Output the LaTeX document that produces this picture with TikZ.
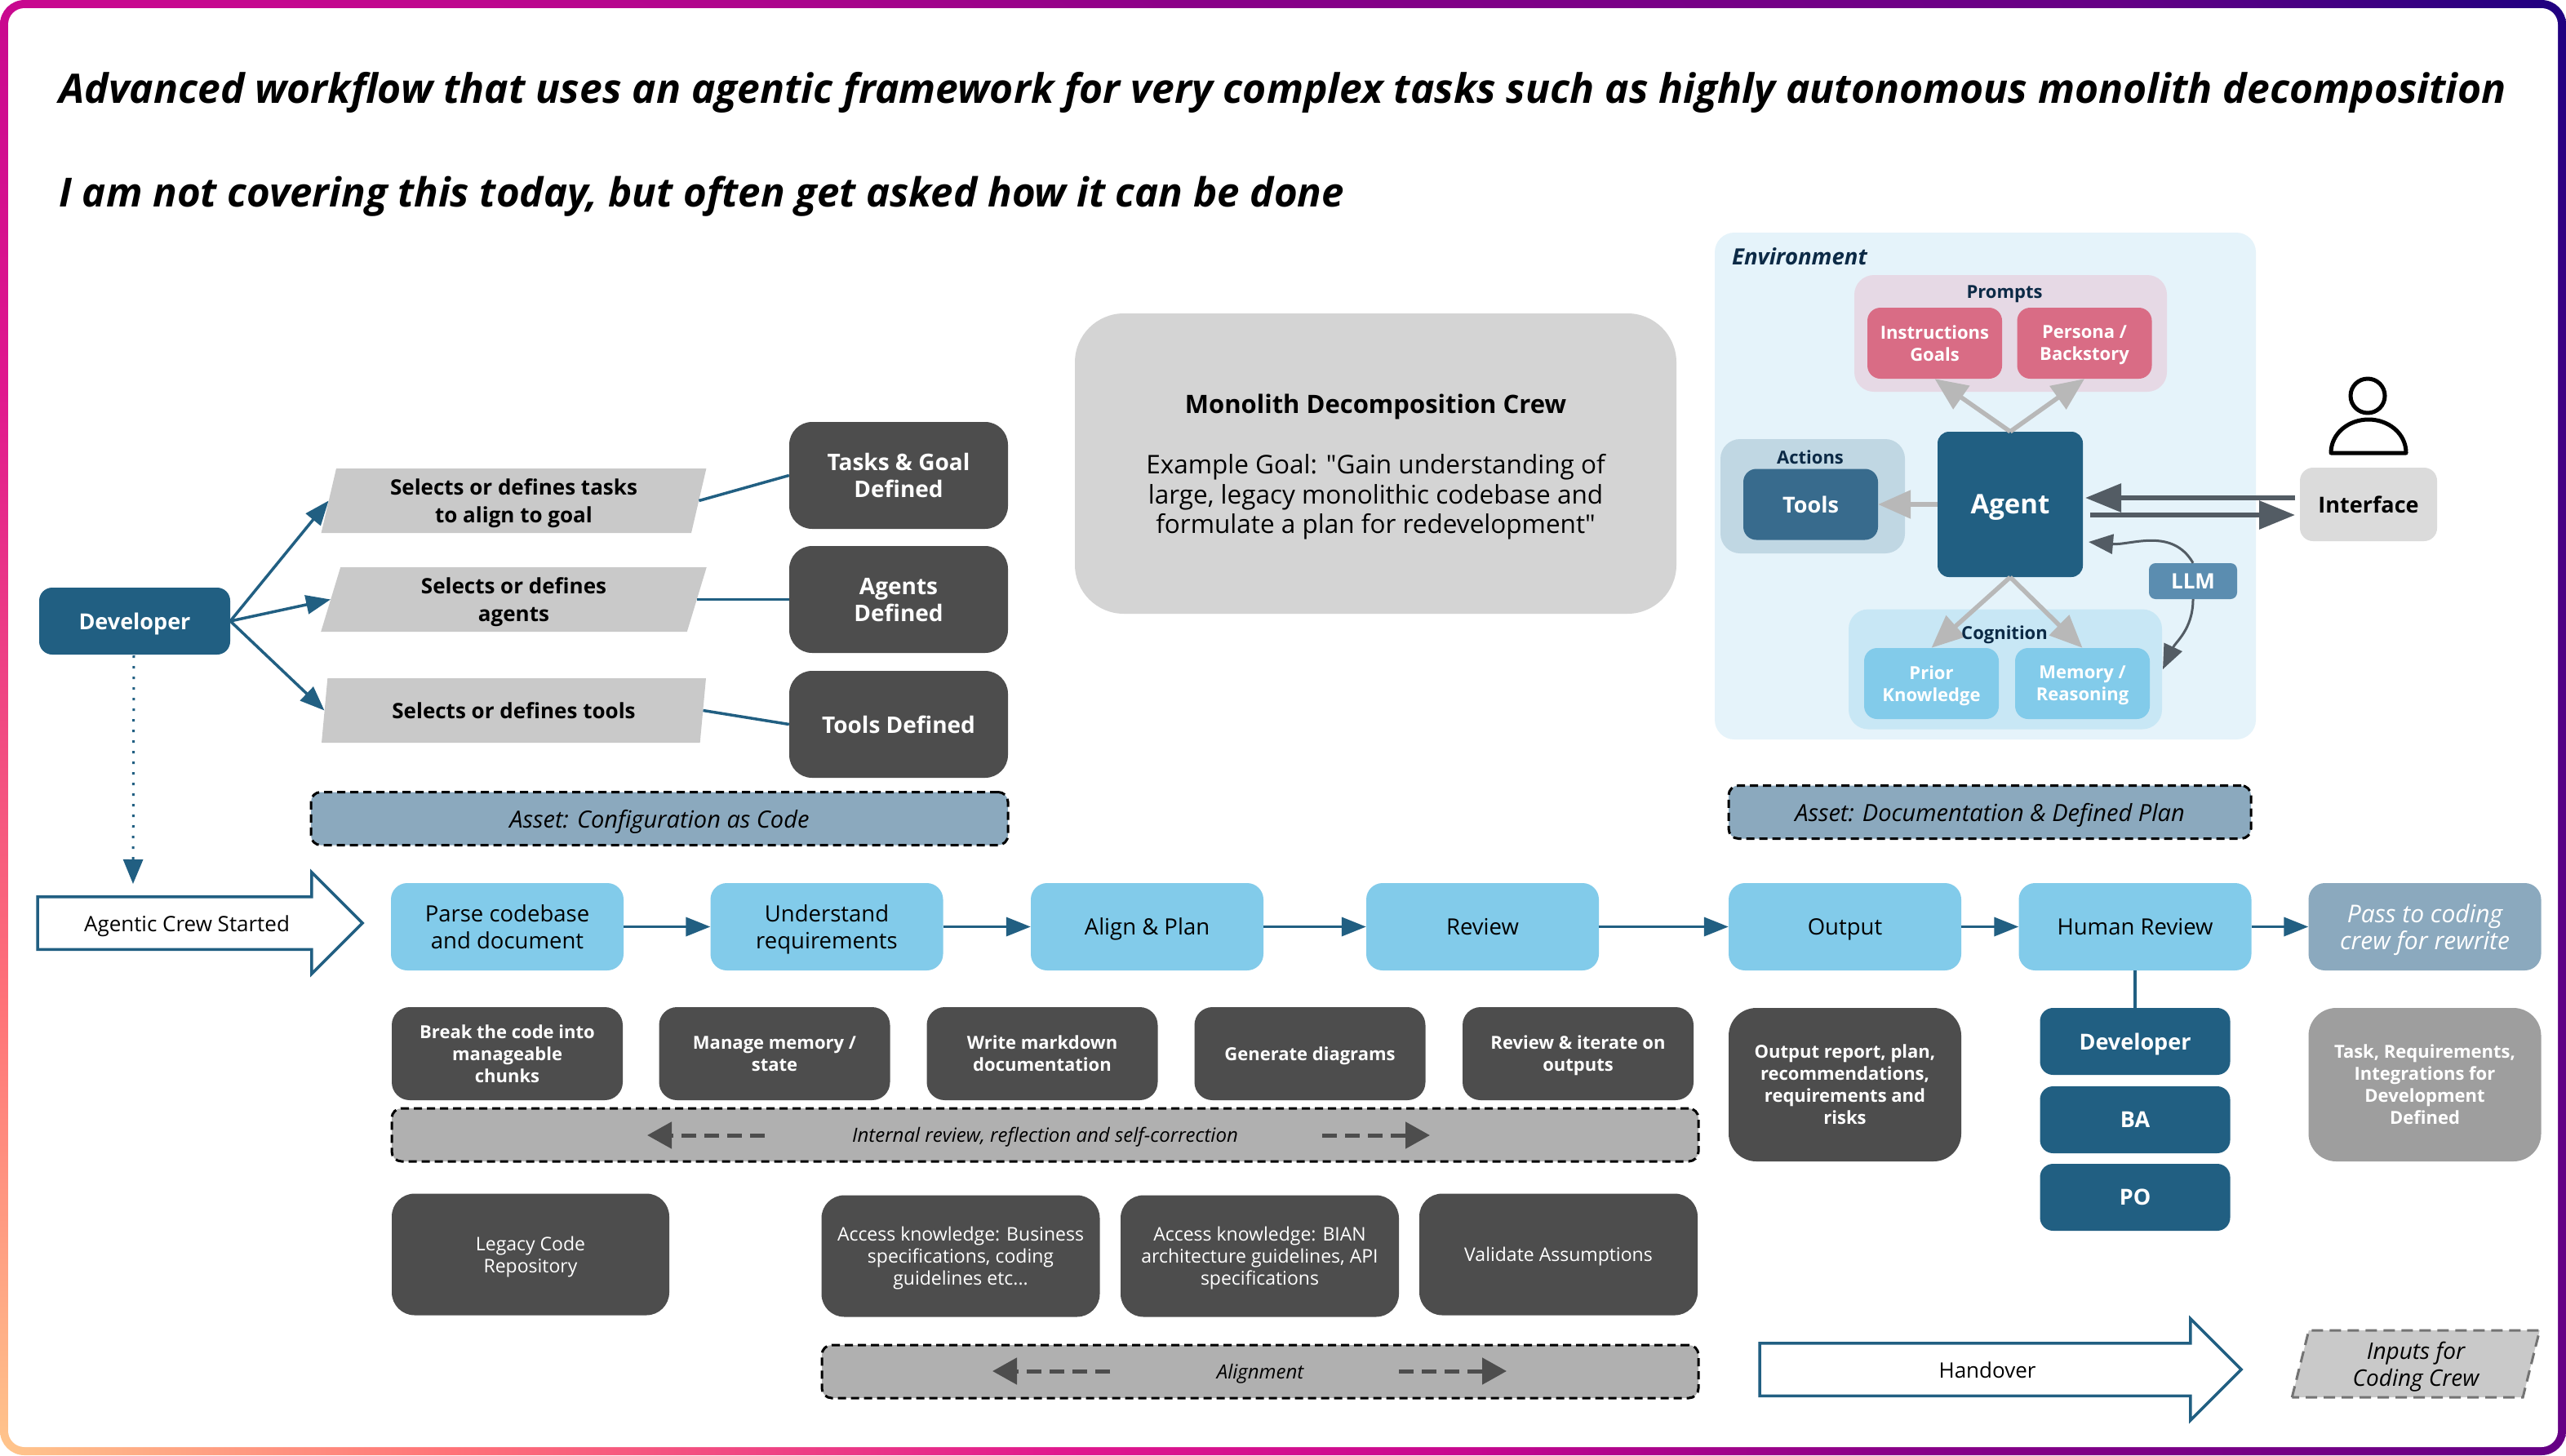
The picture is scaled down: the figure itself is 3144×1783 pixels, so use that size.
\documentclass[tikz,border=0pt]{standalone}
\usepackage{fontspec}
\setmainfont{Open Sans}
\usepackage{tikz}
\usetikzlibrary{arrows.meta,shapes.geometric,shapes.arrows}

\definecolor{navy}{HTML}{215F82}
\definecolor{darkfill}{HTML}{4D4D4D}
\definecolor{stepfill}{HTML}{82CBEA}
\definecolor{assetfill}{HTML}{8BA9BE}
\definecolor{parafill}{HTML}{C9C9C9}
\definecolor{slate}{HTML}{535C64}
\definecolor{inktext}{HTML}{0C2A46}
\definecolor{envfill}{HTML}{E5F3FA}
\definecolor{promptfill}{HTML}{E6D9E5}
\definecolor{rosefill}{HTML}{D96C85}
\definecolor{actionfill}{HTML}{C0D7E3}
\definecolor{toolfill}{HTML}{386B8D}
\definecolor{cognitionfill}{HTML}{C8E7F5}
\definecolor{llmfill}{HTML}{5B8DB0}
\definecolor{frameA}{HTML}{FFC68C}
\definecolor{frameB}{HTML}{FF7378}
\definecolor{frameC}{HTML}{E0188E}
\definecolor{frameD}{HTML}{C8088F}
\definecolor{frameE}{HTML}{8A0088}
\definecolor{frameF}{HTML}{650085}
\definecolor{frameG}{HTML}{1D0080}

\pgfdeclareradialshading{framefill}{\pgfpoint{0bp}{0bp}}{%
    color(0bp)=(frameA);
    color(3.7bp)=(frameB);
    color(8.8bp)=(frameC);
    color(12.05bp)=(frameD);
    color(15.55bp)=(frameE);
    color(21.25bp)=(frameF);
    color(24.45bp)=(frameG);
    color(50bp)=(frameG)}

\newcommand{\fsz}[2]{\fontsize{#1}{#2}\selectfont}

\begin{document}
\begin{tikzpicture}[x=1pt, y=-1pt,
    box/.style={rectangle, align=center, inner sep=0pt, text depth=0pt},
    stepbox/.style={box, fill=stepfill, rounded corners=20pt, minimum width=285pt,
        minimum height=107pt, text=black, font=\fsz{27.5}{33}},
    chunkbox/.style={box, fill=darkfill, rounded corners=22pt, minimum width=283pt,
        minimum height=114pt, text=white, font=\fsz{22}{27}\bfseries},
    defbox/.style={box, fill=darkfill, rounded corners=28pt, minimum width=268pt,
        minimum height=131pt, text=white, font=\fsz{28}{33}\bfseries},
    knowbox/.style={box, fill=darkfill, rounded corners=28pt, minimum width=341pt,
        minimum height=149pt, text=white, font=\fsz{23}{27}},
    outbox/.style={box, rounded corners=34pt, minimum width=285pt,
        minimum height=188pt, text=white, font=\fsz{22}{27}\bfseries},
    teambox/.style={box, fill=navy, rounded corners=16pt, minimum width=233pt,
        minimum height=82pt, text=white, font=\fsz{27}{33}\bfseries},
    parabox/.style={box, trapezium, trapezium stretches=true, trapezium left angle=76.5,
        trapezium right angle=103.5, fill=parafill, minimum width=473pt, minimum height=79pt,
        text=black, font=\fsz{26}{33.5}\bfseries},
    assetbox/.style={box, fill=assetfill, draw=black, line width=3pt, dash pattern=on 10pt off 6pt,
        rounded corners=12pt, minimum height=65pt, text=black, font=\fsz{29}{33}\itshape},
    loopbox/.style={box, fill=black!31, draw=black, line width=3pt, dash pattern=on 10pt off 6pt,
        rounded corners=12pt, minimum height=65pt, text=black, font=\fsz{24}{27}\itshape},
    bigarrow/.style={box, single arrow, single arrow head extend=30pt, minimum width=122pt,
        text height=20pt, inner ysep=20.5pt,
        draw=navy, line width=3.5pt, fill=white, text=black, font=\fsz{26}{33}},
    grouplabel/.style={box, text=inktext, font=\fsz{22}{27}\bfseries},
    envbox/.style={box, rounded corners=24pt},
    cardbox/.style={box, rounded corners=16pt, minimum width=165pt, minimum height=87pt,
        text=white, font=\fsz{22}{27}\bfseries},
    flowline/.style={navy, line width=3.5pt, -{Triangle[length=30pt,width=23pt]}},
    plainline/.style={navy, line width=3.5pt},
    dotline/.style={navy, line width=3pt, dash pattern=on 3pt off 10pt, -{Triangle[length=30pt,width=24pt]}},
    backline/.style={darkfill, line width=5pt, dash pattern=on 18pt off 10pt},
    greyline/.style={black!28, line width=5.5pt, -{Triangle[length=40pt,width=34pt]}},
    ifaceline/.style={slate, line width=6pt, -{Triangle[length=44pt,width=34pt]}},
    llmline/.style={slate, line width=3pt, -{Triangle[length=30pt,width=24pt]}},
    usericon/.style={black, line width=5pt, line join=round}]

    % frame
    \useasboundingbox (0,0) rectangle (3144,1783);
    \begin{scope}
        \clip[rounded corners=30pt] (0,0) rectangle (3144,1783);
        \shade[shading=framefill] (0,1783) circle (3700);
    \end{scope}
    \fill[white, rounded corners=20pt] (10,10) rectangle (3134,1773);

    % titles
    \node[box, anchor=west, font=\fsz{49.8}{54}\bfseries\itshape] (title) at (72,107)
        {Advanced workflow that uses an agentic framework for very complex tasks such as highly autonomous monolith decomposition};
    \node[box, anchor=west, font=\fsz{49.2}{54}\bfseries\itshape] (subtitle) at (72,235)
        {I am not covering this today, but often get asked how it can be done};

    % developer and configuration
    \node[teambox, minimum width=234pt] (dev) at (165,761) {Developer};
    \node[parabox] (seltasks) at (629.5,613.5) {Selects or defines tasks\\to align to goal};
    \node[parabox] (selagents) at (629.5,734.5) {Selects or defines\\agents};
    \node[parabox] (seltools) at (629.5,870.5) {Selects or defines tools};
    \node[defbox] (deftasks) at (1101,582.5) {Tasks \& Goal\\Defined};
    \node[defbox] (defagents) at (1101,734.5) {Agents\\Defined};
    \node[defbox] (deftools) at (1101,887.5) {Tools Defined};
    \node[assetbox, minimum width=854pt] (assetcfg) at (808,1003) {Asset: Configuration as Code};

    \node[box, fill=black!17, rounded corners=60pt, minimum width=737pt, minimum height=368pt,
        text=black, font=\fsz{31.5}{36.5}] (crew) at (1685.5,568)
        {{\fsz{31}{36.5}\bfseries Monolith Decomposition Crew}\\[38pt]
        Example Goal: \textquotedbl Gain understanding of\\large, legacy monolithic codebase and\\formulate a plan for redevelopment\textquotedbl};

    % main flow
    \node[bigarrow, minimum height=398pt] (started) at (229,1131) {Agentic Crew Started};
    \node[stepbox] (parse) at (621.5,1135.5) {Parse codebase\\and document};
    \node[stepbox] (understand) at (1013,1135.5) {Understand\\requirements};
    \node[stepbox] (align) at (1405.5,1135.5) {Align \& Plan};
    \node[stepbox] (review) at (1816.5,1135.5) {Review};
    \node[stepbox] (output) at (2260.5,1135.5) {Output};
    \node[stepbox] (human) at (2616,1135.5) {Human Review};
    \node[stepbox, fill=assetfill, text=white, font=\fsz{30}{33}\itshape] (pass) at (2971,1135.5) {Pass to coding\\crew for rewrite};

    \node[chunkbox] (chunks) at (621.5,1291) {Break the code into\\manageable\\chunks};
    \node[chunkbox] (memory) at (949,1291) {Manage memory /\\state};
    \node[chunkbox] (markdown) at (1277,1291) {Write markdown\\documentation};
    \node[chunkbox] (diagrams) at (1605,1291) {Generate diagrams};
    \node[chunkbox] (iterate) at (1933.5,1291) {Review \& iterate on\\outputs};
    \node[loopbox, minimum width=1601pt] (internal) at (1280.5,1390.5) {Internal review, reflection and self-correction};

    \node[knowbox, minimum width=340pt] (legacy) at (650,1537) {Legacy Code\\Repository};
    \node[knowbox] (bizdocs) at (1177,1539) {Access knowledge: Business\\specifications, coding\\guidelines etc...};
    \node[knowbox] (biandocs) at (1543.5,1539) {Access knowledge: BIAN\\architecture guidelines, API\\specifications};
    \node[knowbox] (validate) at (1909.5,1537) {Validate Assumptions};
    \node[loopbox, minimum width=1074pt] (alignment) at (1544,1680.5) {Alignment};

    \node[outbox, fill=darkfill] (report) at (2260.5,1329) {Output report, plan,\\recommendations,\\requirements  and\\risks};
    \node[outbox, fill=black!38] (inputs) at (2971,1329) {Task, Requirements,\\Integrations for\\Development\\Defined};
    \node[teambox] (devb) at (2616,1276) {Developer};
    \node[teambox] (ba) at (2616,1372) {BA};
    \node[teambox] (po) at (2616,1467) {PO};

    \node[bigarrow, minimum height=590pt] (handover) at (2435,1678) {Handover};
    \node[parabox, trapezium left angle=77.4, trapezium right angle=102.6, minimum width=304pt, minimum height=82pt,
        draw=black!55, line width=3pt, dash pattern=on 14pt off 8pt, font=\fsz{28}{33}\itshape] (coding) at (2960,1671) {Inputs for\\Coding Crew};

    % environment
    \node[envbox, fill=envfill, minimum width=663pt, minimum height=621pt] (env) at (2432.5,595.5) {};
    \node[box, anchor=west, text=inktext, font=\fsz{27.5}{30}\bfseries\itshape] (envlabel) at (2122,314) {Environment};
    \node[envbox, fill=promptfill, minimum width=383pt, minimum height=143pt] (prompts) at (2463.5,408.5) {};
    \node[envbox, fill=actionfill, minimum width=226pt, minimum height=140pt] (actions) at (2221,608) {};
    \node[envbox, fill=cognitionfill, minimum width=384pt, minimum height=147pt] (cognition) at (2457,820) {};

    \node[cardbox, fill=rosefill] (instr) at (2370.5,420.5) {Instructions\\Goals};
    \node[cardbox, fill=rosefill] (persona) at (2554,420.5) {Persona /\\Backstory};
    \node[cardbox, fill=toolfill, font=\fsz{27}{33}\bfseries] (tools) at (2218.5,618) {Tools};
    \node[cardbox, fill=stepfill] (prior) at (2366.5,837.5) {Prior\\Knowledge};
    \node[cardbox, fill=stepfill] (reasoning) at (2551.5,837.5) {Memory /\\Reasoning};
    \node[box, fill=navy, rounded corners=14pt, minimum width=178pt, minimum height=178pt,
        text=white, font=\fsz{33}{36}\bfseries] (agent) at (2463,618) {Agent};
    \node[box, fill=black!14, rounded corners=16pt, minimum width=168pt, minimum height=90pt,
        text=black, font=\fsz{27}{33}\bfseries] (interface) at (2902,618) {Interface};
    \node[box, fill=llmfill, rounded corners=8pt, minimum width=108pt, minimum height=44pt,
        text=white, font=\fsz{26}{30}\bfseries] (llm) at (2687,712) {LLM};
    \node[assetbox, minimum width=640pt] (assetdoc) at (2438,995) {Asset: Documentation \& Defined Plan};

    % free ends
    \coordinate (ifinend) at (2555,610);
    \coordinate (ifinstart) at (2812,610);
    \coordinate (ifoutstart) at (2561,631);
    \coordinate (ifoutend) at (2812,631);
    \coordinate (llmagent) at (2559,664);
    \coordinate (llmmem) at (2650,820);
    \coordinate (devdown) at (163,1083);
    \coordinate (devstart) at (164,803);
    \coordinate (intleftend) at (793,1391);
    \coordinate (intleftstart) at (937,1391);
    \coordinate (intrightstart) at (1620,1391);
    \coordinate (intrightend) at (1752,1391);
    \coordinate (algleftend) at (1216,1680);
    \coordinate (algleftstart) at (1360,1680);
    \coordinate (algrightstart) at (1714,1680);
    \coordinate (algrightend) at (1846,1680);

    % connectors
    \path[flowline] (dev.east) edge (seltasks.west)
                    (dev.east) edge (selagents.west)
                    (dev.east) edge (seltools.west)
                    (parse) edge (understand)
                    (understand) edge (align)
                    (align) edge (review)
                    (review) edge (output)
                    (output) edge (human)
                    (human) edge (pass);
    \path[plainline] (seltasks.east) edge (deftasks.west)
                     (selagents.east) edge (defagents.west)
                     (seltools.east) edge (deftools.west)
                     (human) edge (devb);
    \path[dotline] (devstart) edge (devdown);
    \path[backline, -{Triangle[length=30pt,width=32pt,sep=0pt]}]
                    (intleftstart) edge (intleftend)
                    (intrightstart) edge (intrightend)
                    (algleftstart) edge (algleftend)
                    (algrightstart) edge (algrightend);

    \path[greyline] (agent.north) edge (instr.south)
                    (agent.north) edge (persona.south)
                    (agent.west) edge (tools.east)
                    (agent.south) edge (prior.north)
                    (agent.south) edge (reasoning.north);
    \path[ifaceline] (ifinstart) edge (ifinend)
                     (ifoutstart) edge (ifoutend);
    \path[llmline] (llm.north) edge[out=120, in=-5] (llmagent)
                   (llm.south) edge[out=-90, in=65] (llmmem);

    \node[grouplabel] (promptslabel) at (2456,358) {Prompts};
    \node[grouplabel] (actionslabel) at (2218,560) {Actions};
    \node[grouplabel] (cognitionlabel) at (2456,775) {Cognition};

    % person above the interface
    \draw[usericon] (2901,485) circle (21);
    \draw[usericon] (2856,555) to[out=90, in=180] (2902,514) to[out=0, in=90] (2948,555) -- cycle;
\end{tikzpicture}
\end{document}
